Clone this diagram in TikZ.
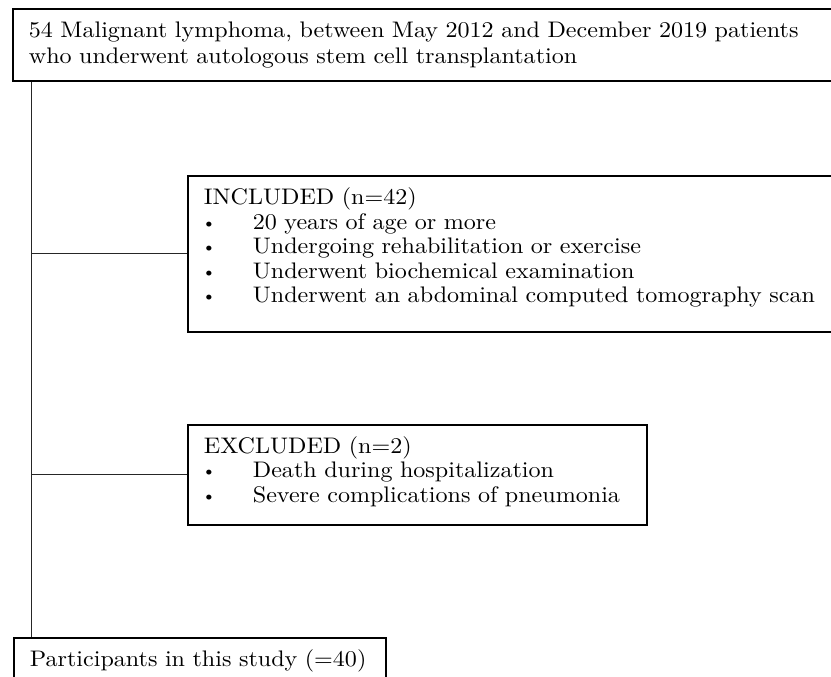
\documentclass[tikz,border=0pt]{standalone}
\usepackage{fontspec}
\usepackage{tikz}
\usetikzlibrary{positioning}

\newfontfamily\boxfont{lmroman10-regular}[Extension=.otf, FakeStretch=1.07]
\newcommand{\critem}[1]{\makebox[49pt][l]{\hspace{-2pt}\raisebox{1.3pt}{\fontsize{17}{17}\selectfont\textbullet}}#1}
\newcommand{\padbelow}[1]{\rule[-#1]{0pt}{#1}}

\begin{document}
\begin{tikzpicture}[
  x=1pt, y=-1pt,
  flowbox/.style={
    draw=black,
    line width=1.8pt,
    anchor=north west,
    align=left,
    inner xsep=16pt,
    inner ysep=2pt,
    font=\boxfont\fontsize{22.5}{24.5}\selectfont
  },
  branch/.style={draw=black!85, line width=0.9pt}
]
  \useasboundingbox (0,0) rectangle (831,677);

  \node[flowbox, text width=805pt, minimum height=72pt] (source) at (12,8)
    {54 Malignant lymphoma, between May 2012 and December 2019 patients\\[1.5pt]
     who underwent autologous stem cell transplantation};

  \node[flowbox, text width=640pt, minimum height=156pt] (included) at (187,175)
    {INCLUDED (n=42)\\
     \critem{20 years of age or more}\\
     \critem{Undergoing rehabilitation or exercise}\\
     \critem{Underwent biochemical examination}\\
     \critem{Underwent an abdominal computed tomography scan}\padbelow{17pt}};

  \node[flowbox, text width=427pt, minimum height=100pt] (excluded) at (187,424)
    {EXCLUDED (n=2)\\
     \critem{Death during hospitalization}\\
     \critem{Severe complications of pneumonia}\padbelow{11pt}};

  \node[flowbox, text width=340pt, minimum height=46pt] (participants) at (13,637)
    {Participants in this study (=40)};

  \coordinate (trunk) at (31,0);
  \draw[branch] (source.south -| trunk) -- (participants.north -| trunk);
  \draw[branch] (included.west -| trunk) -- (included.west);
  \draw[branch] (excluded.west -| trunk) -- (excluded.west);
\end{tikzpicture}
\end{document}
